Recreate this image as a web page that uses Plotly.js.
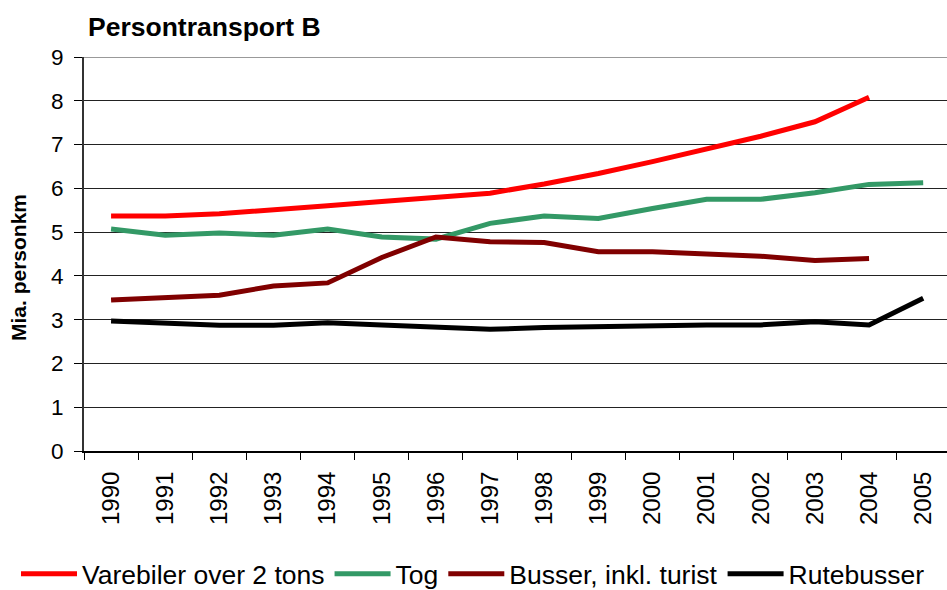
<!DOCTYPE html>
<html>
<head>
<meta charset="utf-8">
<script src="https://cdn.plot.ly/plotly-3.0.1.min.js"></script>
<style>html,body{margin:0;padding:0;background:#fff;}#chart{width:947px;height:590px;}</style>
</head>
<body>
<div id="chart"></div>
<script>
const years = ["1990","1991","1992","1993","1994","1995","1996","1997","1998","1999","2000","2001","2002","2003","2004","2005"];
const varebiler = [5.37,5.37,5.42,5.50,5.60,5.70,5.79,5.89,6.10,6.34,6.61,6.89,7.19,7.52,8.08,null];
const tog = [5.07,4.93,4.98,4.93,5.07,4.89,4.84,5.20,5.37,5.31,5.54,5.75,5.75,5.90,6.09,6.13];
const busser = [3.45,3.50,3.56,3.77,3.84,4.42,4.89,4.78,4.76,4.55,4.55,4.50,4.45,4.35,4.40,null];
const rutebusser = [2.97,2.93,2.87,2.87,2.93,2.88,2.82,2.78,2.82,2.84,2.88,2.88,2.88,2.95,2.88,3.49];
const names = ["Varebiler over 2 tons","Tog","Busser, inkl. turist","Rutebusser"];
const colors = ["#FF0000","#339966","#800000","#000000"];
const series = [varebiler, tog, busser, rutebusser];

const traces = series.map((s,i)=>({
  type:'scatter', mode:'lines', x: years, y: s, name: names[i],
  line:{color: colors[i], width:5}, connectgaps:false
}));

const layout = {
  width:947, height:590,
  margin:{l:84, r:0, t:57, b:139, autoexpand:false},
  paper_bgcolor:'#fff', plot_bgcolor:'#fff',
  font:{family:'"Liberation Sans", Arial, sans-serif', color:'#000'},
  title:{text:'<b>Persontransport B</b>', font:{size:26.5, color:'#000'}, x:88/947, xanchor:'left', y:1-27/590, yanchor:'middle'},
  xaxis:{type:'category', range:[-0.5,15.44], tickson:'boundaries', ticks:'outside', ticklen:7, tickcolor:'#000',
         tickangle:-90, tickfont:{size:24}, showgrid:false, showline:true, linecolor:'#000', linewidth:2,
         ticklabelstandoff:9, automargin:false, fixedrange:true},
  yaxis:{range:[0,9], dtick:1, tick0:0, ticks:'outside', ticklen:8, tickcolor:'#000', tickfont:{size:22.5},
         showgrid:true, gridcolor:'#222', gridwidth:1, showline:true, linecolor:'#333', linewidth:2,
         zeroline:false, ticklabelstandoff:6, automargin:false, fixedrange:true},
  showlegend:true,
  legend:{orientation:'h', x:(16-84)/863, xanchor:'left', y:(451-574)/394, yanchor:'middle',
          font:{size:26.5}, itemwidth:56, bgcolor:'rgba(0,0,0,0)'},
  annotations:[{text:'<b>Mia. personkm</b>', xref:'paper', yref:'paper', x:(18-84)/863, y:(451-268)/394,
                xanchor:'center', yanchor:'middle', textangle:-90, showarrow:false, font:{size:21, color:'#000'}}],
  shapes:[{type:'line', xref:'paper', yref:'y', x0:0, x1:1, y0:9, y1:9, line:{color:'#999', width:2}}]
};
Plotly.newPlot('chart', traces, layout, {displayModeBar:false, staticPlot:true});
</script>
</body>
</html>
